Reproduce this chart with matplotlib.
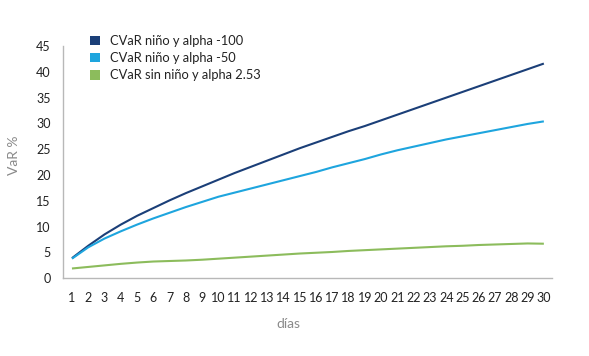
import matplotlib
matplotlib.use("Agg")
import matplotlib.pyplot as plt
from matplotlib.patches import Patch

plt.rcParams['font.family'] = ['Lato', 'DejaVu Sans']

dias = list(range(1, 31))

# CVaR niño y alpha -100
cvar_100 = [3.9, 6.3, 8.5, 10.4, 12.1, 13.6, 15.1, 16.5, 17.8, 19.1,
            20.4, 21.6, 22.8, 24.0, 25.2, 26.3, 27.4, 28.5, 29.5, 30.6,
            31.7, 32.8, 33.9, 35.0, 36.1, 37.2, 38.3, 39.4, 40.5, 41.6]
# CVaR niño y alpha -50
cvar_50 = [3.8, 6.0, 7.7, 9.1, 10.4, 11.6, 12.7, 13.8, 14.8, 15.8,
           16.6, 17.4, 18.2, 19.0, 19.8, 20.6, 21.5, 22.3, 23.1, 24.0,
           24.8, 25.5, 26.2, 26.9, 27.5, 28.1, 28.7, 29.3, 29.9, 30.4]
# CVaR sin niño y alpha 2.53
cvar_sin = [1.9, 2.2, 2.5, 2.8, 3.05, 3.25, 3.35, 3.45, 3.6, 3.8,
            4.0, 4.2, 4.4, 4.6, 4.8, 4.95, 5.1, 5.3, 5.45, 5.6,
            5.75, 5.9, 6.05, 6.2, 6.3, 6.45, 6.55, 6.65, 6.75, 6.7]

labels = ['CVaR niño y alpha -100', 'CVaR niño y alpha -50', 'CVaR sin niño y alpha 2.53']
colors = ['#1b3f78', '#1ea5de', '#8cbc5c']
yticks = list(range(0, 46, 5))

fig = plt.figure(figsize=(5.89, 3.56), dpi=100)
ax = fig.add_axes([63/589, 1 - 278.3/356, (552-63)/589, (278.3-46)/356])

for serie, c in zip([cvar_100, cvar_50, cvar_sin], colors):
    ax.plot(dias, serie, color=c, lw=1.5, solid_capstyle='butt')

ax.set_xlim(0.45, 30.5)
ax.set_ylim(0, 45)
ax.set_xticks(dias)
ax.set_yticks(yticks)
ax.tick_params(length=0, labelsize=9, labelcolor='#222222')
ax.tick_params(axis='x', pad=10)
ax.tick_params(axis='y', pad=9)

for s in ['top', 'right']:
    ax.spines[s].set_visible(False)
for s in ['left', 'bottom']:
    ax.spines[s].set_color('#b8b8b8')
    ax.spines[s].set_linewidth(1.0)

ax.set_xlabel('días', fontsize=10, color='#8a8a8a')
ax.xaxis.set_label_coords((288-63)/(552-63), -(318-278.3)/(278.3-46))
ax.set_ylabel('VaR %', fontsize=10, color='#8a8a8a')
ax.yaxis.set_label_coords(-(63-20)/(552-63), (278.3-155)/(278.3-46))

handles = [Patch(facecolor=c, edgecolor='none') for c in colors]
fig.legend(handles, labels, loc='upper left', bbox_to_anchor=(90/589, 1 - 35/356),
           frameon=False, fontsize=9.3, handlelength=0.75, handleheight=0.75,
           handletextpad=0.8, labelspacing=0.4, borderpad=0, borderaxespad=0,
           labelcolor='#222222')

fig.savefig('out.png', dpi=100)
